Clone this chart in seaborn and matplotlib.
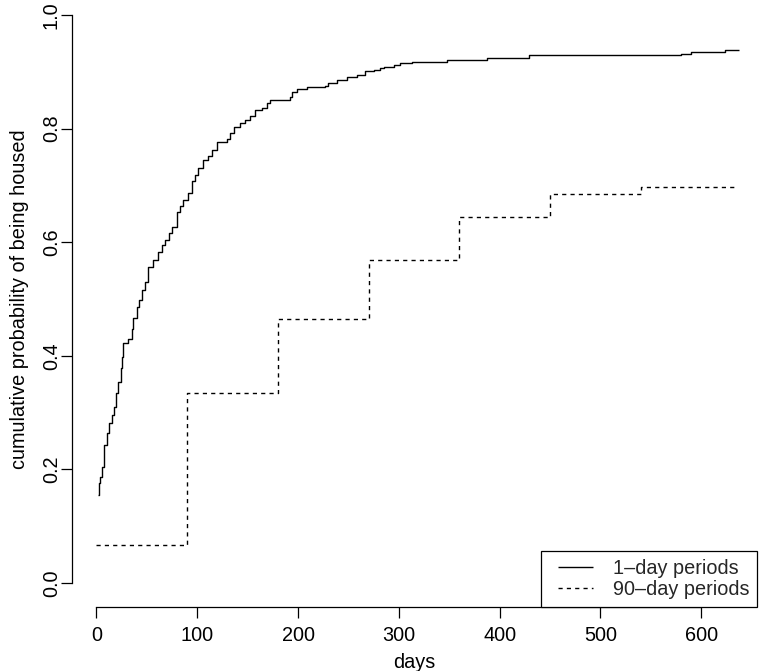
import numpy as np
import pandas as pd
import matplotlib
matplotlib.use("Agg")
import matplotlib.pyplot as plt
import seaborn as sns
from matplotlib.legend_handler import HandlerLine2D

# ---- data ----
days_1 = [1, 2, 3.5, 5, 7, 7.5, 10, 12, 15, 17,
          19.5, 21.5, 24, 25.5, 26.5, 31.5, 35, 36.5, 40, 42.5,
          45, 48, 51.5, 56.5, 61.5, 65, 68, 71.5, 75, 79.5,
          83, 86, 91, 94.5, 98, 101, 106, 111, 114.5, 119.5,
          129.5, 132, 136, 142.5, 147.5, 152.5, 157.5, 164, 169, 172.5,
          191.5, 194, 199, 209, 227, 230, 238.5, 248.5, 258.5, 266.5,
          275, 281.5, 285, 295, 301.5, 313, 348, 387.5, 429, 579.5,
          589.5, 624, 637]
prob_1 = [0.155, 0.176, 0.187, 0.205, 0.228, 0.243, 0.264, 0.281, 0.296, 0.310,
          0.334, 0.354, 0.378, 0.398, 0.422, 0.429, 0.448, 0.466, 0.486, 0.498,
          0.516, 0.530, 0.557, 0.569, 0.583, 0.595, 0.604, 0.616, 0.627, 0.654,
          0.663, 0.674, 0.686, 0.707, 0.718, 0.730, 0.745, 0.751, 0.762, 0.777,
          0.781, 0.792, 0.803, 0.810, 0.816, 0.822, 0.833, 0.837, 0.845, 0.850,
          0.855, 0.865, 0.869, 0.873, 0.875, 0.880, 0.886, 0.890, 0.894, 0.902,
          0.904, 0.906, 0.908, 0.912, 0.915, 0.918, 0.921, 0.924, 0.930, 0.932,
          0.935, 0.938, 0.938]
days_90 = [0, 90, 180, 270, 360, 450, 540, 634]
prob_90 = [0.067, 0.334, 0.465, 0.568, 0.645, 0.685, 0.697, 0.697]
x_ticks = [0, 100, 200, 300, 400, 500, 600]
y_ticks = [0.0, 0.2, 0.4, 0.6, 0.8, 1.0]
y_ticklabels = ["0.0", "0.2", "0.4", "0.6", "0.8", "1.0"]
series_labels = ["1\u2013day periods", "90\u2013day periods"]

df1 = pd.DataFrame({"days": days_1, "prob": prob_1})
df90 = pd.DataFrame({"days": days_90, "prob": prob_90})

sns.set_style("ticks")
plt.rcParams["font.family"] = ["Liberation Sans", "DejaVu Sans"]
FS = 14.3

W, H = 760, 671
fig = plt.figure(figsize=(W / 100, H / 100), dpi=100)
# axes region in pixels
left_px, right_px, bottom_px, top_px = 71.7, 757.0, 607.0, -7.7
ax = fig.add_axes([left_px / W, (H - bottom_px) / H,
                   (right_px - left_px) / W, (bottom_px - top_px) / H])

sns.lineplot(data=df1, x="days", y="prob", ax=ax, color="black", linewidth=1.0,
             drawstyle="steps-post", label=series_labels[0], solid_capstyle="butt",
             estimator=None, sort=False)
sns.lineplot(data=df90, x="days", y="prob", ax=ax, color="black", linewidth=1.0,
             drawstyle="steps-post", label=series_labels[1],
             linestyle=(0, (3, 3)), estimator=None, sort=False)

ax.set_xlim(-24.6, 655.3)
ax.set_ylim(-0.0423, 1.040)
ax.set_xticks(x_ticks)
ax.set_xticklabels([str(t) for t in x_ticks])
ax.set_yticks(y_ticks)
ax.set_yticklabels(y_ticklabels)

for s in ["top", "right"]:
    ax.spines[s].set_visible(False)
ax.spines["left"].set_bounds(0, 1)
ax.spines["bottom"].set_bounds(0, 600)
for s in ["left", "bottom"]:
    ax.spines[s].set_linewidth(0.9)
    ax.spines[s].set_color("black")

ax.tick_params(axis="both", length=7.8, width=0.9, color="black",
               labelsize=FS, labelcolor="black")
ax.tick_params(axis="x", pad=6.0)
ax.tick_params(axis="y", pad=0.0, labelrotation=90)
for lab in ax.get_yticklabels():
    lab.set_verticalalignment("center")

ax.set_xlabel("days", fontsize=FS, color="black")
ax.set_ylabel("cumulative probability of being housed", fontsize=FS, color="black")
ax.xaxis.set_label_coords(0.5, (bottom_px - 652.7) / (bottom_px - top_px))
ax.yaxis.set_label_coords((29.5 - left_px) / (right_px - left_px), 0.5)


class ShiftedLine(HandlerLine2D):
    def create_artists(self, legend, orig_handle, xdescent, ydescent, width,
                       height, fontsize, trans):
        shift = 6.5
        return super().create_artists(legend, orig_handle, xdescent - shift,
                                      ydescent, width - shift, height,
                                      fontsize, trans)


handles, labels = ax.get_legend_handles_labels()
leg = ax.legend(handles, labels, loc="lower right", bbox_to_anchor=(1.0, 0.0),
                borderaxespad=0.0, fontsize=FS, frameon=True, fancybox=False,
                framealpha=1.0, edgecolor="black", borderpad=0.4,
                labelspacing=0.1, handlelength=2.22, handletextpad=1.0,
                handler_map={h: ShiftedLine() for h in handles})
leg.get_frame().set_linewidth(0.9)

fig.savefig("out.png", dpi=100)
